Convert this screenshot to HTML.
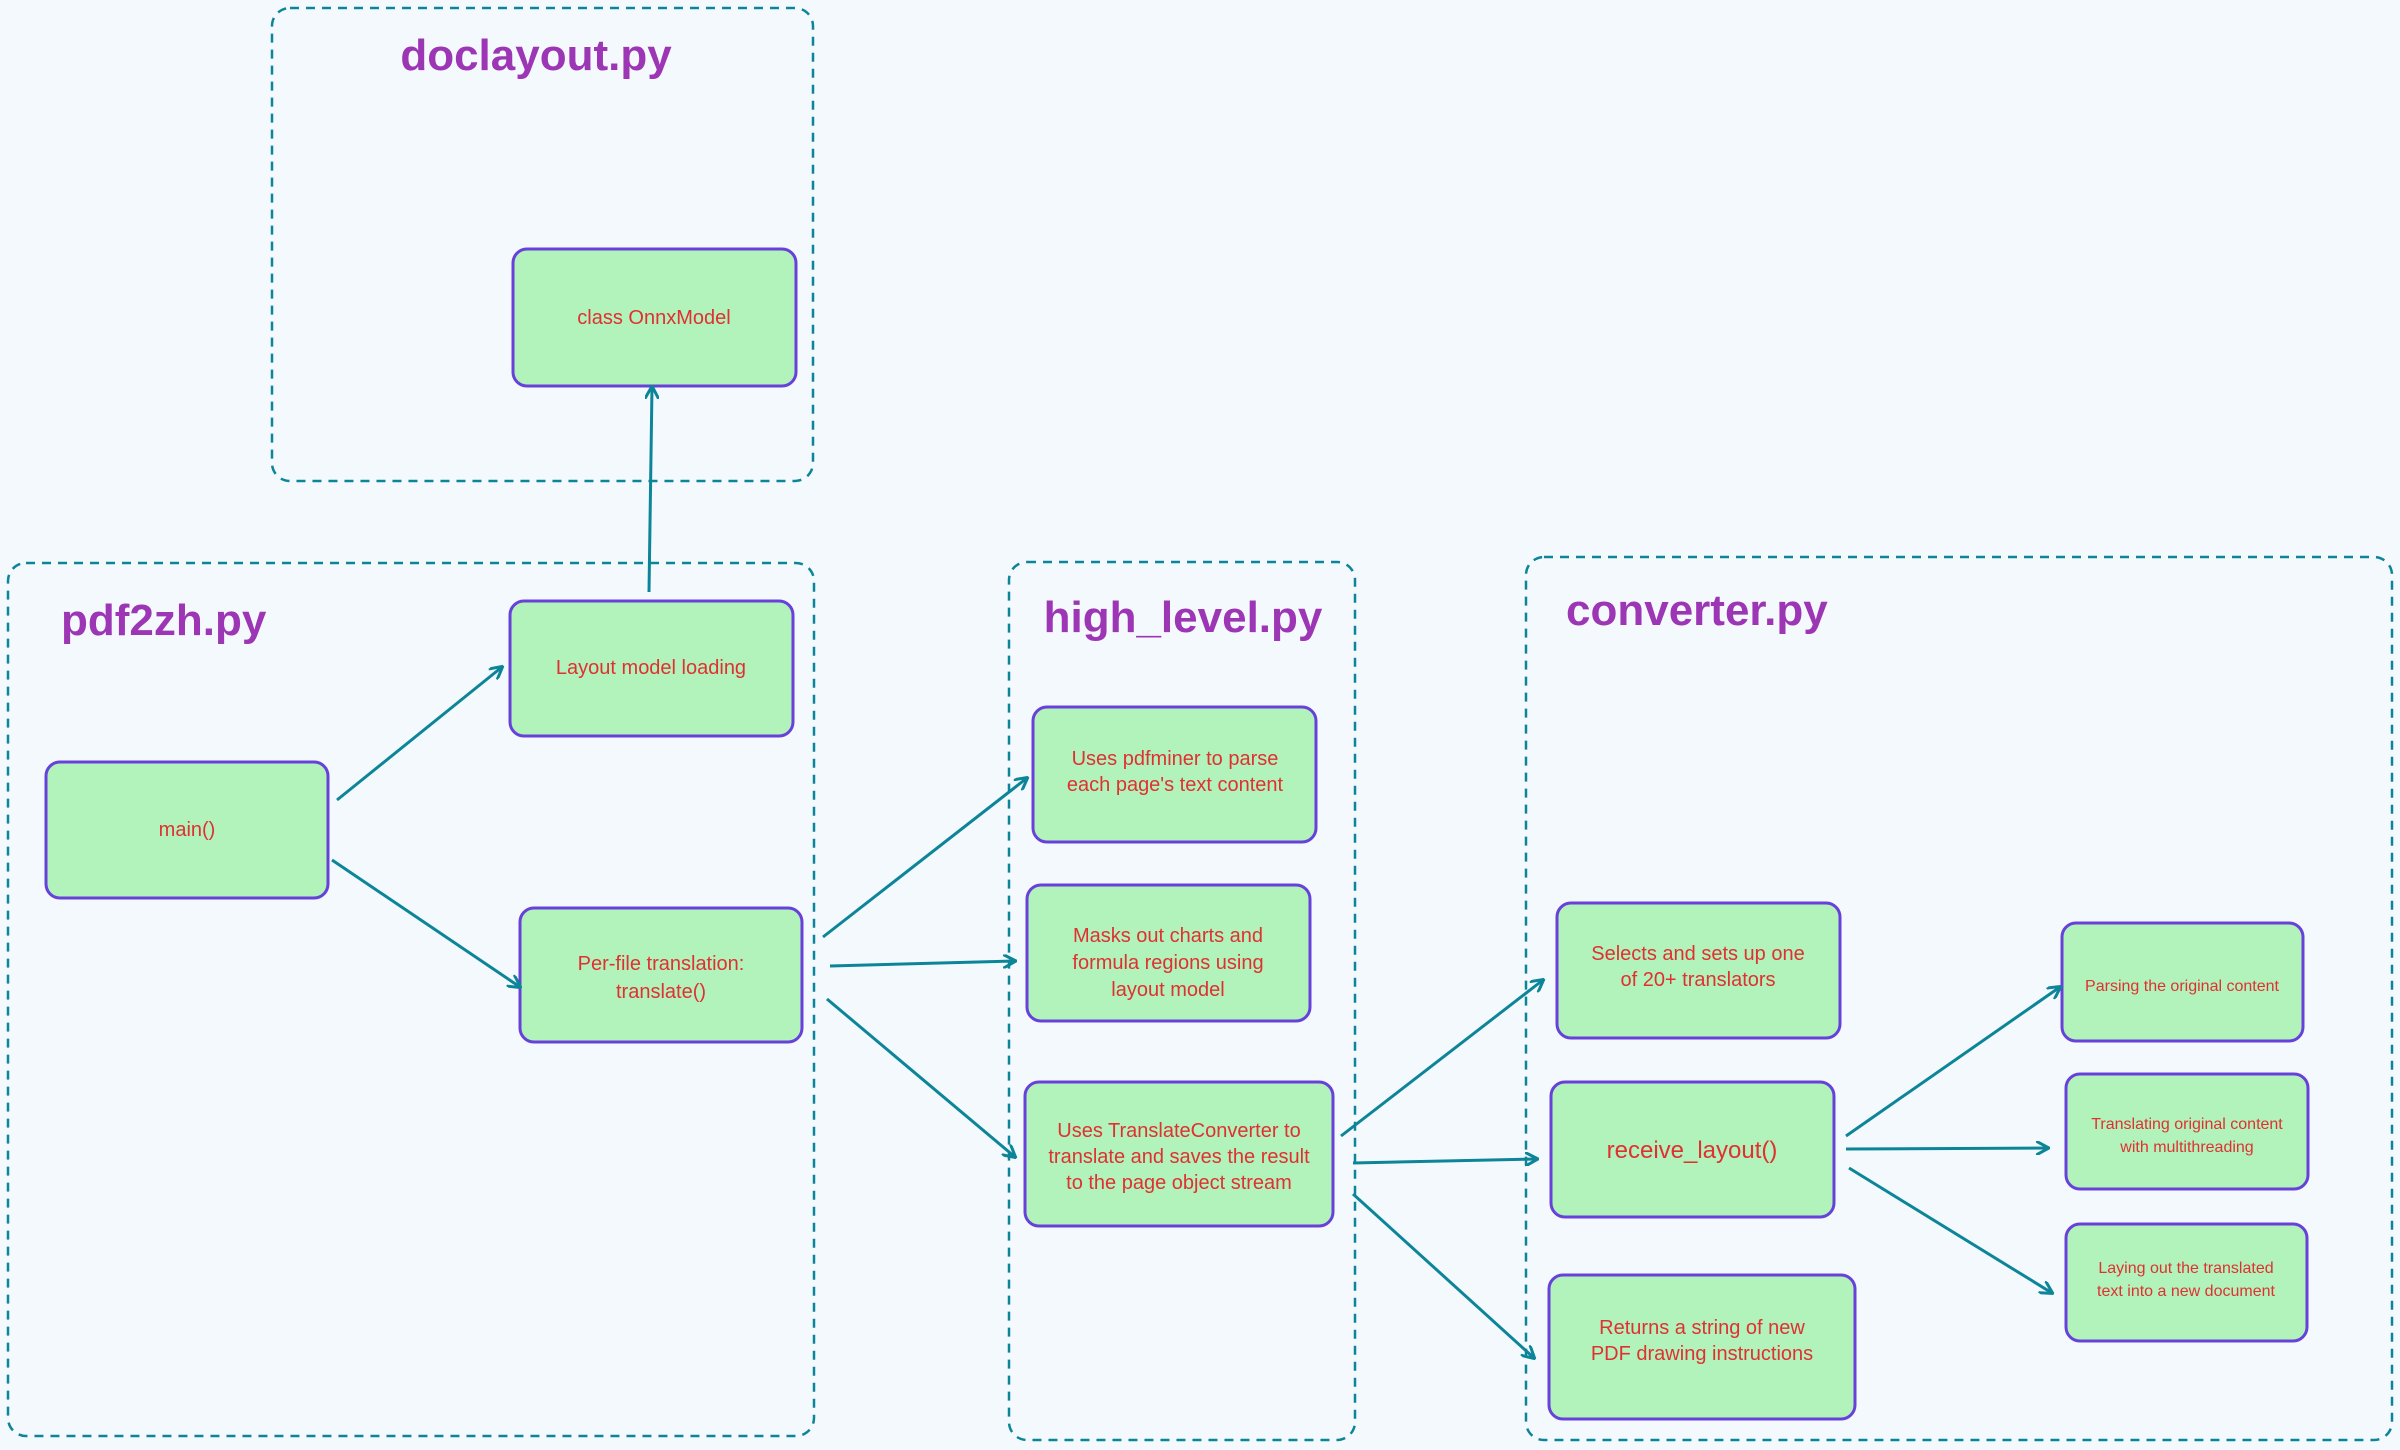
<!DOCTYPE html>
<html><head><meta charset="utf-8"><style>
html,body{margin:0;padding:0;background:#f4f9fd;}
svg{display:block}
text{font-family:"Liberation Sans",sans-serif}
.t{fill:#9c36b5;font-size:44px;font-weight:bold}
.l{fill:#e03131;font-size:20px;text-anchor:middle}
.c{fill:none;stroke:#0c8599;stroke-width:2.5;stroke-dasharray:9 7}
.b{fill:#b2f2bb;stroke:#6741d9;stroke-width:3}
.a{stroke:#0c8599;stroke-width:3;fill:none}
</style></head><body>
<svg width="2400" height="1450" viewBox="0 0 2400 1450">
<defs><marker id="m" markerWidth="14" markerHeight="14" refX="12" refY="7" orient="auto" markerUnits="userSpaceOnUse"><path d="M0,0 L13,7 L0,14" fill="none" stroke="#0c8599" stroke-width="3"/></marker></defs>
<rect class="c" x="272" y="8" width="541" height="473" rx="18"/>
<rect class="c" x="8" y="563" width="806" height="873" rx="18"/>
<rect class="c" x="1009" y="562" width="346" height="878" rx="18"/>
<rect class="c" x="1526" y="557" width="866" height="883" rx="18"/>
<text class="t" x="536" y="70" text-anchor="middle">doclayout.py</text>
<text class="t" x="61" y="635">pdf2zh.py</text>
<text class="t" x="1183" y="632" text-anchor="middle">high_level.py</text>
<text class="t" x="1566" y="625">converter.py</text>

<rect class="b" x="513" y="249" width="283" height="137" rx="14"/>
<text class="l" x="654" y="324">class OnnxModel</text>
<rect class="b" x="510" y="601" width="283" height="135" rx="14"/>
<text class="l" x="651" y="674">Layout model loading</text>
<rect class="b" x="46" y="762" width="282" height="136" rx="14"/>
<text class="l" x="187" y="836">main()</text>
<rect class="b" x="520" y="908" width="282" height="134" rx="14"/>
<text class="l" x="661" y="970">Per-file translation:</text>
<text class="l" x="661" y="998">translate()</text>

<rect class="b" x="1033" y="707" width="283" height="135" rx="14"/>
<text class="l" x="1175" y="765">Uses pdfminer to parse</text>
<text class="l" x="1175" y="791">each page's text content</text>
<rect class="b" x="1027" y="885" width="283" height="136" rx="14"/>
<text class="l" x="1168" y="942">Masks out charts and</text>
<text class="l" x="1168" y="969">formula regions using</text>
<text class="l" x="1168" y="996">layout model</text>
<rect class="b" x="1025" y="1082" width="308" height="144" rx="14"/>
<text class="l" x="1179" y="1137">Uses TranslateConverter to</text>
<text class="l" x="1179" y="1163">translate and saves the result</text>
<text class="l" x="1179" y="1189">to the page object stream</text>

<rect class="b" x="1557" y="903" width="283" height="135" rx="14"/>
<text class="l" x="1698" y="960">Selects and sets up one</text>
<text class="l" x="1698" y="986">of 20+ translators</text>
<rect class="b" x="1551" y="1082" width="283" height="135" rx="14"/>
<text class="l" x="1692" y="1158" style="font-size:24px">receive_layout()</text>
<rect class="b" x="1549" y="1275" width="306" height="144" rx="14"/>
<text class="l" x="1702" y="1334">Returns a string of new</text>
<text class="l" x="1702" y="1360">PDF drawing instructions</text>

<rect class="b" x="2062" y="923" width="241" height="118" rx="14"/>
<text class="l" x="2182" y="991" style="font-size:16px">Parsing the original content</text>
<rect class="b" x="2066" y="1074" width="242" height="115" rx="14"/>
<text class="l" x="2187" y="1129" style="font-size:16px">Translating original content</text>
<text class="l" x="2187" y="1152" style="font-size:16px">with multithreading</text>
<rect class="b" x="2066" y="1224" width="241" height="117" rx="14"/>
<text class="l" x="2186" y="1273" style="font-size:16px">Laying out the translated</text>
<text class="l" x="2186" y="1296" style="font-size:16px">text into a new document</text>

<g marker-end="url(#m)">
<line class="a" x1="649" y1="592" x2="652" y2="387"/>
<line class="a" x1="337" y1="800" x2="502" y2="667"/>
<line class="a" x1="332" y1="860" x2="520" y2="987"/>
<line class="a" x1="823" y1="937" x2="1027" y2="778"/>
<line class="a" x1="830" y1="966" x2="1015" y2="961"/>
<line class="a" x1="827" y1="999" x2="1015" y2="1157"/>
<line class="a" x1="1341" y1="1136" x2="1543" y2="980"/>
<line class="a" x1="1353" y1="1163" x2="1537" y2="1159"/>
<line class="a" x1="1353" y1="1194" x2="1534" y2="1358"/>
<line class="a" x1="1846" y1="1136" x2="2060" y2="987"/>
<line class="a" x1="1846" y1="1149" x2="2048" y2="1148"/>
<line class="a" x1="1849" y1="1168" x2="2052" y2="1293"/>
</g>
</svg>
</body></html>
